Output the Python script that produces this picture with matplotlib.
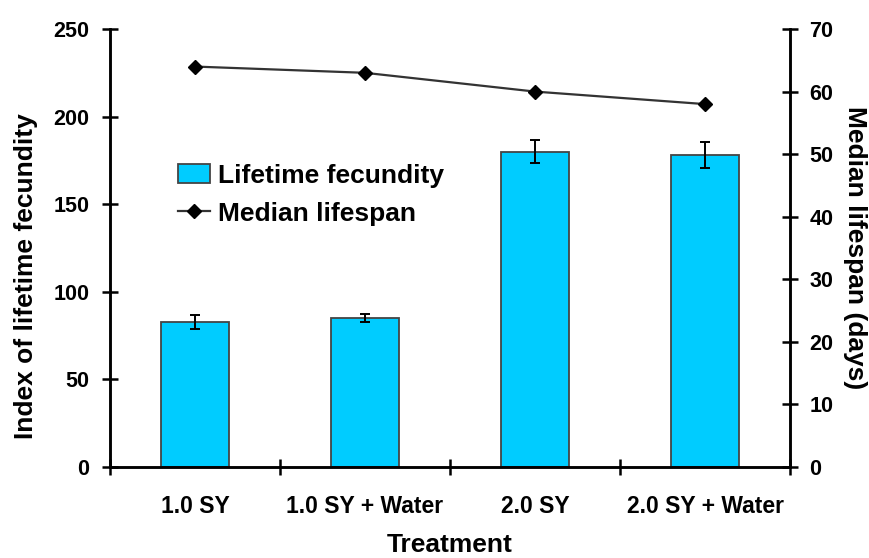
import numpy as np
import matplotlib.pyplot as plt
from matplotlib.patches import Patch
from matplotlib.lines import Line2D

plt.rcParams['font.family'] = ['Liberation Sans', 'DejaVu Sans']
plt.rcParams['font.weight'] = 'bold'

treatments = ["1.0 SY", "1.0 SY + Water", "2.0 SY", "2.0 SY + Water"]
fecundity = [83, 85, 180, 178]
fecundity_err = [4, 2.5, 6.5, 7.5]
lifespan = [64, 63, 60, 58]

fig = plt.figure(figsize=(8.69, 5.58), dpi=100)
ax = fig.add_axes([0.1266, 0.163, 0.7825, 0.785])
ax2 = ax.twinx()

x = np.arange(len(treatments))
ax.bar(x, fecundity, width=0.4, color="#00CCFF", edgecolor="#444444", linewidth=1.3, zorder=2)
ax.errorbar(x, fecundity, yerr=fecundity_err, fmt="none", ecolor="black",
            elinewidth=1.4, capsize=3.5, capthick=1.4, zorder=3)

ax2.plot(x, lifespan, color="#333333", linewidth=1.6, marker="D", markersize=7.5,
         markerfacecolor="black", markeredgecolor="black")

ax.set_xlim(-0.5, 3.5)
ax.set_ylim(0, 250)
ax2.set_ylim(0, 70)
ax.set_yticks(range(0, 251, 50))
ax2.set_yticks(range(0, 71, 10))

# category ticks sit between the bars
ax.set_xticks(x)
ax.set_xticklabels(treatments)
ax.set_xticks(np.arange(-0.5, 4, 1), minor=True)
ax.tick_params(axis="x", which="major", length=0, pad=20, labelsize=16.5)
ax.tick_params(axis="x", which="minor", direction="inout", length=12, width=1.8)
ax.tick_params(axis="y", direction="inout", length=12, width=1.8, labelsize=15.5, pad=9)
ax2.tick_params(axis="y", direction="inout", length=12, width=1.8, labelsize=15.5, pad=8)

for a in (ax, ax2):
    a.spines["top"].set_visible(False)
    for s in ("left", "right", "bottom"):
        a.spines[s].set_linewidth(1.8)

ax.set_xlabel("Treatment", fontsize=19, fontweight="bold", labelpad=11)
ax.set_ylabel("Index of lifetime fecundity", fontsize=19, fontweight="bold")
ax.yaxis.set_label_coords(-0.106, 0.435)
ax2.set_ylabel("Median lifespan (days)", fontsize=19, fontweight="bold",
               rotation=270, labelpad=24)

handles = [Patch(facecolor="#00CCFF", edgecolor="#444444", linewidth=1.3),
           Line2D([0], [0], color="#333333", linewidth=1.6, marker="D", markersize=7.5,
                  markerfacecolor="black", markeredgecolor="black")]
fig.legend(handles, ["Lifetime fecundity", "Median lifespan"], frameon=False,
           loc="upper left", bbox_to_anchor=(178 / 869, 1 - 164 / 558), fontsize=19,
           borderpad=0, borderaxespad=0, handlelength=1.2, handleheight=0.75,
           handletextpad=0.3, labelspacing=0.52)

fig.savefig("out.png", dpi=100)
